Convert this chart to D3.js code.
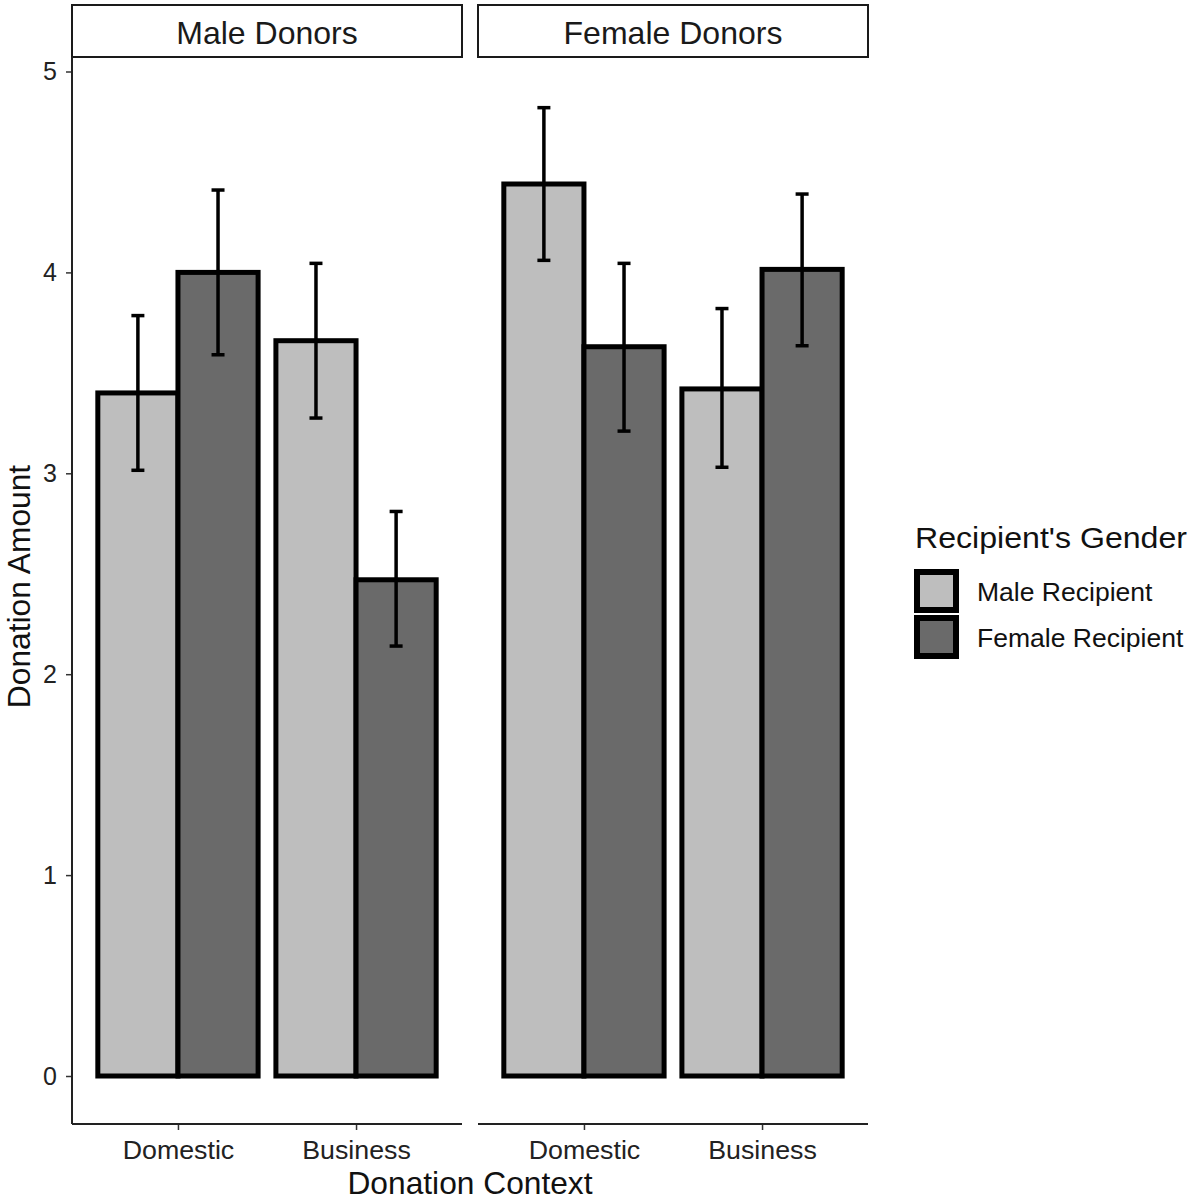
<!DOCTYPE html>
<html>
<head>
<meta charset="utf-8">
<script src="https://cdn.jsdelivr.net/npm/d3@7"></script>
<style>
  html, body { margin: 0; padding: 0; background: #fff; }
  svg { display: block; font-family: "Liberation Sans", Arial, sans-serif; }
</style>
</head>
<body>
<svg id="chart" width="1193" height="1200"></svg>
<script>
// ---- data ----
const donors = ["Male Donors", "Female Donors"];
const contexts = ["Domestic", "Business"];
const recipients = ["Male Recipient", "Female Recipient"];
// order: Domestic-Male, Domestic-Female, Business-Male, Business-Female
const maleDonorMeans = [3.40, 4.00, 3.66, 2.47];
const maleDonorLow   = [3.015, 3.59, 3.275, 2.14];
const maleDonorHigh  = [3.785, 4.41, 4.045, 2.81];
const femaleDonorMeans = [4.44, 3.63, 3.42, 4.015];
const femaleDonorLow   = [4.06, 3.21, 3.03, 3.635];
const femaleDonorHigh  = [4.82, 4.045, 3.82, 4.39];
const yTicks = [0, 1, 2, 3, 4, 5];
const fills = ["#BEBEBE", "#6A6A6A"];

const tables = [
  [maleDonorMeans, maleDonorLow, maleDonorHigh],
  [femaleDonorMeans, femaleDonorLow, femaleDonorHigh]
];
const rows = [];
donors.forEach((d, di) => {
  const [m, lo, hi] = tables[di];
  contexts.forEach((c, ci) => {
    recipients.forEach((r, ri) => {
      const k = ci * 2 + ri;
      rows.push({donor: d, context: c, recipient: r, mean: m[k], low: lo[k], high: hi[k]});
    });
  });
});

// ---- layout ----
const svg = d3.select("#chart");
const panelX = [72, 478];
const panelW = 390;
const panelTop = 57, panelBottom = 1124;
const stripTop = 5;

const y = d3.scaleLinear().domain([0, 5]).range([1076, 71.5]);
const xOuter = d3.scalePoint().domain(contexts).range([0, panelW]).padding(0.595);
const step = xOuter.step();
const xInner = d3.scaleBand().domain(recipients).range([-0.45 * step, 0.45 * step]);
const color = d3.scaleOrdinal().domain(recipients).range(fills);

// widen text slightly to match the reference rendering
function stretch(sel, factor) {
  sel.each(function() {
    const w = this.getComputedTextLength();
    d3.select(this).attr("textLength", w * factor).attr("lengthAdjust", "spacingAndGlyphs");
  });
}

donors.forEach((d, di) => {
  const g = svg.append("g").attr("transform", `translate(${panelX[di]},0)`);

  // strip
  g.append("rect")
    .attr("x", 0).attr("y", stripTop)
    .attr("width", panelW).attr("height", panelTop - stripTop)
    .attr("fill", "#fff").attr("stroke", "#1a1a1a").attr("stroke-width", 2);
  g.append("text")
    .attr("x", panelW / 2).attr("y", 43.5)
    .attr("text-anchor", "middle")
    .attr("font-size", 30.5).attr("fill", "#1a1a1a")
    .text(d)
    .call(stretch, 1.05);

  const data = rows.filter(r => r.donor === d);

  // bars
  g.selectAll("rect.bar").data(data).join("rect")
    .attr("class", "bar")
    .attr("x", r => xOuter(r.context) + xInner(r.recipient))
    .attr("width", xInner.bandwidth())
    .attr("y", r => y(r.mean))
    .attr("height", r => y(0) - y(r.mean))
    .attr("fill", r => color(r.recipient))
    .attr("stroke", "#000").attr("stroke-width", 5);

  // error bars
  const capHalf = 6.5;
  const eb = g.selectAll("g.eb").data(data).join("g").attr("class", "eb")
    .attr("transform", r => `translate(${xOuter(r.context) + xInner(r.recipient) + xInner.bandwidth() / 2},0)`);
  eb.append("line")
    .attr("x1", 0).attr("x2", 0)
    .attr("y1", r => y(r.low)).attr("y2", r => y(r.high))
    .attr("stroke", "#000").attr("stroke-width", 3.5);
  eb.append("line")
    .attr("x1", -capHalf).attr("x2", capHalf)
    .attr("y1", r => y(r.high)).attr("y2", r => y(r.high))
    .attr("stroke", "#000").attr("stroke-width", 3.5);
  eb.append("line")
    .attr("x1", -capHalf).attr("x2", capHalf)
    .attr("y1", r => y(r.low)).attr("y2", r => y(r.low))
    .attr("stroke", "#000").attr("stroke-width", 3.5);

  // x axis
  const xa = g.append("g").attr("transform", `translate(0,${panelBottom})`)
    .call(d3.axisBottom(xOuter).tickSize(6).tickPadding(5));
  xa.select(".domain").remove();
  xa.selectAll(".tick line").attr("stroke", "#333").attr("stroke-width", 1.5);
  xa.selectAll(".tick text").attr("font-size", 25.5).attr("fill", "#222")
    .attr("font-family", "Liberation Sans, Arial, sans-serif").attr("dy", "0.93em")
    .call(stretch, 1.05);
  g.append("line")
    .attr("x1", 0).attr("x2", panelW)
    .attr("y1", panelBottom).attr("y2", panelBottom)
    .attr("stroke", "#222").attr("stroke-width", 2);

  // y axis (left panel only)
  if (di === 0) {
    const ya = g.append("g")
      .call(d3.axisLeft(y).tickValues(yTicks).tickFormat(d3.format("d")).tickSize(6).tickPadding(9));
    ya.select(".domain").remove();
    ya.selectAll(".tick line").attr("stroke", "#333").attr("stroke-width", 1.5);
    ya.selectAll(".tick text").attr("font-size", 25).attr("fill", "#222")
      .attr("font-family", "Liberation Sans, Arial, sans-serif");
    g.append("line")
      .attr("x1", 0).attr("x2", 0)
      .attr("y1", panelTop).attr("y2", panelBottom)
      .attr("stroke", "#222").attr("stroke-width", 2);
  }
});

// axis titles
svg.append("text")
  .attr("x", (panelX[0] + panelX[1] + panelW) / 2).attr("y", 1194)
  .attr("text-anchor", "middle").attr("font-size", 30.5).attr("fill", "#111")
  .text("Donation Context")
  .call(stretch, 1.04);
svg.append("text")
  .attr("transform", `translate(30,${(panelTop + panelBottom) / 2 - 4}) rotate(-90)`)
  .attr("text-anchor", "middle").attr("font-size", 30.5).attr("fill", "#111")
  .text("Donation Amount")
  .call(stretch, 1.04);

// legend
const lg = svg.append("g").attr("transform", "translate(914,0)");
lg.append("text").attr("x", 1).attr("y", 548)
  .attr("font-size", 30).attr("fill", "#111").text("Recipient's Gender")
  .call(stretch, 1.07);
const keyY = d3.scaleBand().domain(recipients).range([569, 661]);
const items = lg.selectAll("g.item").data(recipients).join("g").attr("class", "item")
  .attr("transform", r => `translate(0,${keyY(r)})`);
items.append("rect")
  .attr("x", 3).attr("y", 3)
  .attr("width", 39).attr("height", keyY.bandwidth() - 8)
  .attr("fill", r => color(r)).attr("stroke", "#000").attr("stroke-width", 6);
items.append("text")
  .attr("x", 63).attr("y", keyY.bandwidth() / 2 + 9)
  .attr("font-size", 25.5).attr("fill", "#111").text(r => r)
  .call(stretch, 1.04);
</script>
</body>
</html>
